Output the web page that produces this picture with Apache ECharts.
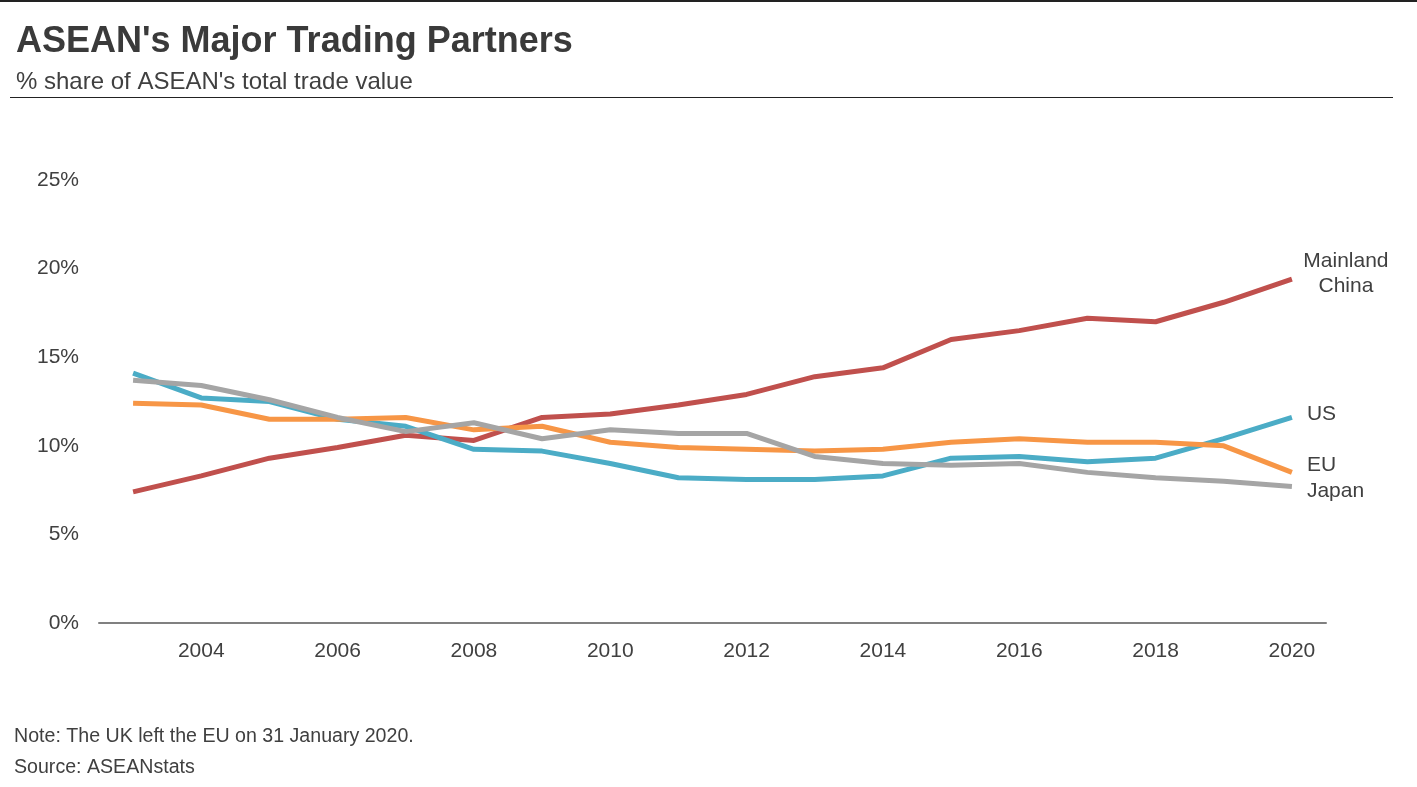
<!DOCTYPE html>
<html>
<head>
<meta charset="utf-8">
<title>ASEAN's Major Trading Partners</title>
<script src="https://cdn.jsdelivr.net/npm/echarts@6/dist/echarts.min.js"></script>
<style>
  html, body { margin: 0; padding: 0; background: #fff; }
  #chart { width: 1417px; height: 787px; }
</style>
</head>
<body>
<div id="chart"></div>
<script>
// years on the x axis
const years = ['2003', '2004', '2005', '2006', '2007', '2008', '2009', '2010', '2011',
               '2012', '2013', '2014', '2015', '2016', '2017', '2018', '2019', '2020'];

// % share of ASEAN's total trade value
const china = [7.4, 8.3, 9.3, 9.9, 10.6, 10.3, 11.6, 11.8, 12.3, 12.9, 13.9, 14.4, 16.0, 16.5, 17.2, 17.0, 18.1, 19.4];
const us    = [14.1, 12.7, 12.5, 11.5, 11.1, 9.8, 9.7, 9.0, 8.2, 8.1, 8.1, 8.3, 9.3, 9.4, 9.1, 9.3, 10.4, 11.6];
const eu    = [12.4, 12.3, 11.5, 11.5, 11.6, 10.9, 11.1, 10.2, 9.9, 9.8, 9.7, 9.8, 10.2, 10.4, 10.2, 10.2, 10.0, 8.5];
const japan = [13.7, 13.4, 12.6, 11.6, 10.8, 11.3, 10.4, 10.9, 10.7, 10.7, 9.4, 9.0, 8.9, 9.0, 8.5, 8.2, 8.0, 7.7];

const textColor = '#404040';
const font = '"Liberation Sans", Arial, sans-serif';

const chart = echarts.init(document.getElementById('chart'));

// helper for the series, label sits right of the last point
const mkSeries = (name, data, color, label, offset, align) => ({
    name: name, type: 'line', data: data,
    symbol: 'none', smooth: false,
    lineStyle: { color: color, width: 5 },
    itemStyle: { color: color },
    endLabel: {
        show: true, formatter: label, distance: 0, offset: offset,
        color: textColor, fontFamily: font, fontSize: 21, lineHeight: 25, align: align
    },
    emphasis: { disabled: true }
});

chart.setOption({
    animation: false,
    textStyle: { fontFamily: font },
    grid: { left: 99, right: 91, top: 180, bottom: 164 },
    xAxis: {
        type: 'category', data: years, boundaryGap: true,
        axisLine: { lineStyle: { color: '#808080', width: 2 } },
        axisTick: { show: false },
        axisLabel: {
            color: textColor, fontSize: 21, margin: 18,
            interval: (i) => i % 2 === 1
        }
    },
    yAxis: {
        type: 'value', min: 0, max: 25, interval: 5,
        axisLine: { show: false }, axisTick: { show: false },
        splitLine: { show: false },
        axisLabel: { color: textColor, fontSize: 21, margin: 20, formatter: '{value}%' }
    },
    series: [
        mkSeries('Mainland China', china, '#C0504D', 'Mainland\nChina', [54, -6], 'center'),
        mkSeries('US', us, '#4BACC6', 'US', [15, -3], 'left'),
        mkSeries('EU', eu, '#F79646', 'EU', [15, -7], 'left'),
        mkSeries('Japan', japan, '#A5A5A5', 'Japan', [15, 5], 'left')
    ],
    graphic: [
        { type: 'line', shape: { x1: 0, y1: 1, x2: 1417, y2: 1 }, style: { stroke: '#222', lineWidth: 2 } },
        { type: 'text', left: 16, top: 24, style: { text: "ASEAN's Major Trading Partners", fill: '#3a3a3a',
            font: 'bold 36px "Liberation Sans", Arial, sans-serif' } },
        { type: 'text', left: 16, top: 70, style: { text: "% share of ASEAN's total trade value", fill: textColor,
            font: '24px "Liberation Sans", Arial, sans-serif' } },
        { type: 'line', shape: { x1: 10, y1: 97.5, x2: 1393, y2: 97.5 }, style: { stroke: '#222', lineWidth: 1.2 } },
        { type: 'text', left: 14, top: 727, style: { text: 'Note: The UK left the EU on 31 January 2020.', fill: textColor,
            font: '19.6px "Liberation Sans", Arial, sans-serif' } },
        { type: 'text', left: 14, top: 758, style: { text: 'Source: ASEANstats', fill: textColor,
            font: '19.6px "Liberation Sans", Arial, sans-serif' } }
    ]
});
</script>
</body>
</html>
